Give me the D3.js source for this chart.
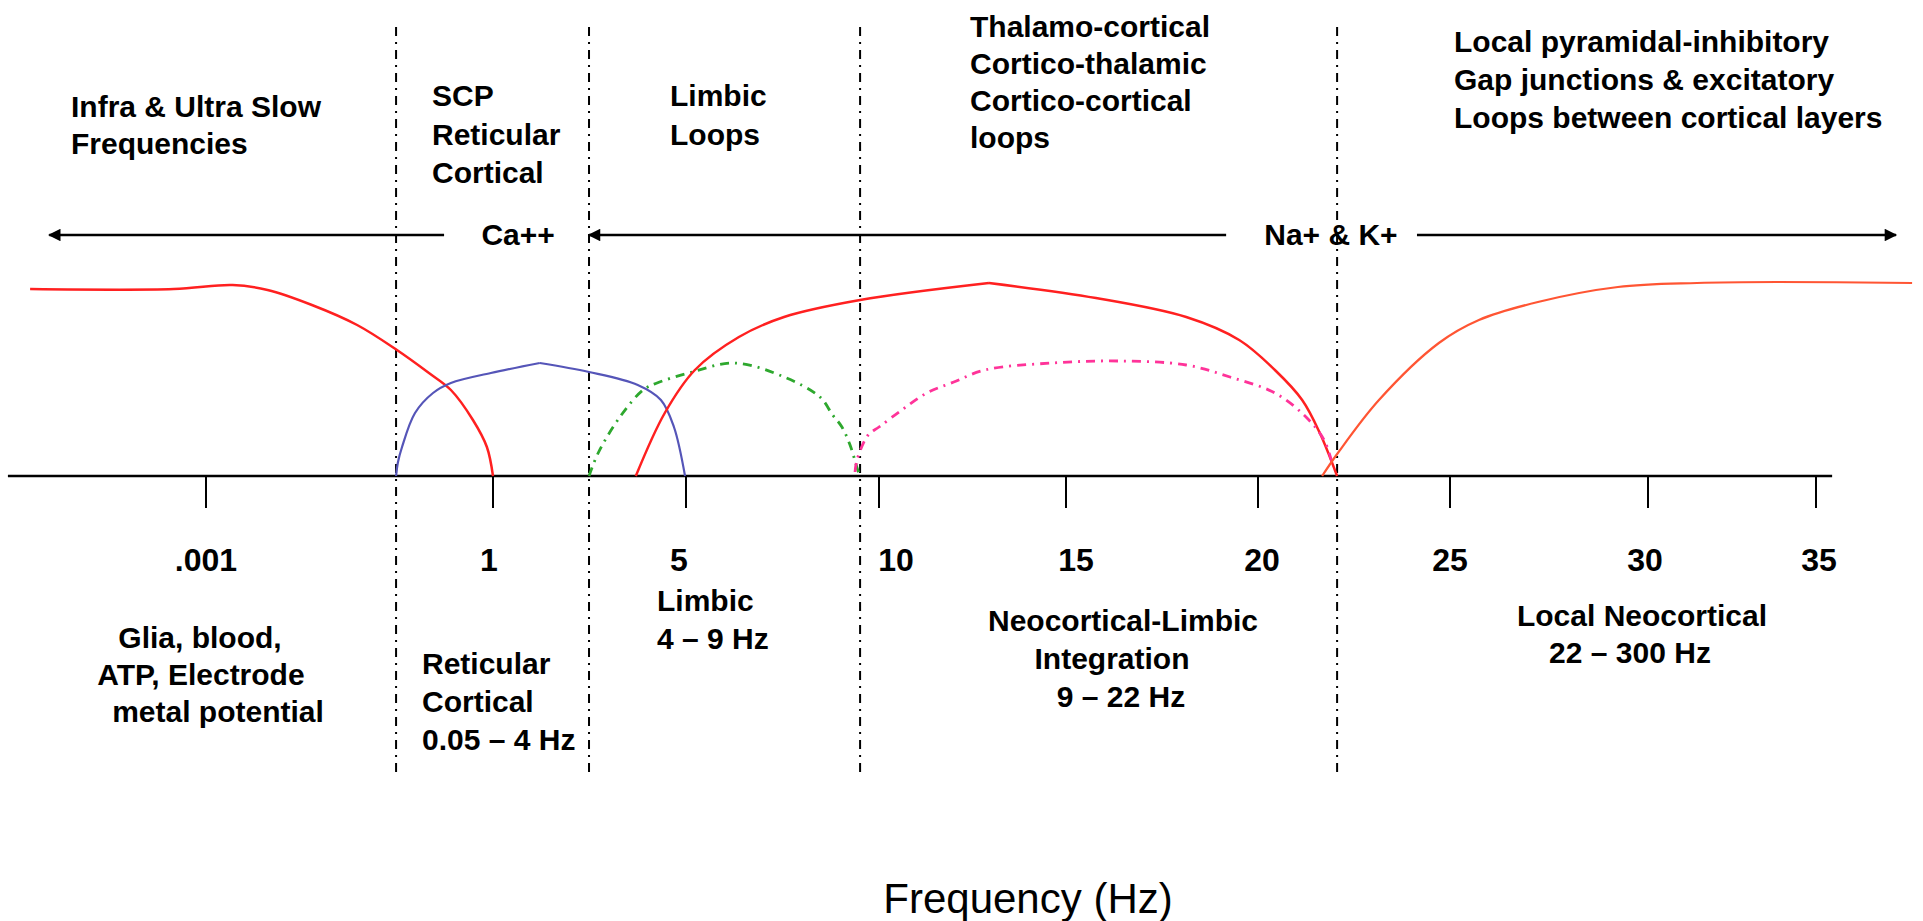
<!DOCTYPE html>
<html>
<head>
<meta charset="utf-8">
<script src="https://cdn.jsdelivr.net/npm/d3@7"></script>
<style>
  html, body { margin: 0; padding: 0; background: #ffffff; }
  svg { display: block; }
  .lbl { font-family: "Liberation Sans", Arial, Helvetica, sans-serif; font-weight: bold; font-size: 30px; fill: #000; }
</style>
</head>
<body>
<svg id="chart" width="1923" height="921"></svg>
<script>
// ---------------- DATA ----------------
const tickHz     = [0.001, 1, 5, 10, 15, 20, 25, 30, 35];
const tickLabels = [".001", "1", "5", "10", "15", "20", "25", "30", "35"];

// band boundaries (Hz)
const dividersHz = [0.097, 2.99, 9.51, 22.06];

// curves: [frequency Hz, relative amplitude 0-100]
const infraSlow = [[1.45e-5,93.5],[4.6e-4,93.5],[1.9e-3,95.5],[4.4e-3,93],[0.0128,85.5],[0.038,75.5],[0.099,63],[0.214,51.5],[0.363,43],[0.617,28],[0.863,14.5],[1,0]];
const reticular = [[0.097,0],[0.1016,7],[0.112,14.5],[0.153,31.5],[0.236,41.5],[0.363,46.5],[0.95,51.5],[1.97,56.5],[2.99,52],[4.0,45.5],[4.48,38],[4.75,24.5],[4.98,0]];
const limbic    = [[2.99,0],[3.18,11.5],[3.63,29.5],[4.11,43],[4.40,46.5],[5.16,52],[6.27,56.5],[7.54,49.5],[8.47,39.5],[8.8,30.5],[9.04,24.5],[9.25,15.5],[9.45,3],[9.51,0]];
const thalamo   = [[3.96,0],[4.56,31.5],[5.23,53],[6.37,69.5],[7.54,79.5],[9.51,88],[12.94,96.5],[15.78,89],[18.13,79.5],[19.51,68],[20.44,53],[21.15,38],[21.61,21.5],[22.06,0]];
const neoLimbic = [[9.38,2],[9.43,8],[9.72,20.5],[10.0,24.5],[10.61,33],[11.28,41.5],[12.0,47],[12.83,53],[14.63,56.5],[16.38,57.5],[18.13,55.5],[19.27,49.5],[20.44,41.5],[21.25,29.5],[21.72,18],[21.96,4.5]];
const localNeo  = [[21.67,0],[22.08,11.5],[23.15,38],[24.71,66.5],[25.73,78],[27.22,87],[29.24,94.5],[31.46,96.5],[33.84,97],[37.86,96.5]];

// ion bands: arrows (Hz)
const ionLabels  = ["Ca++", "Na+ & K+"];
const ionLabelHz = [1.52, 21.9];
const ionArrows  = [[0.308, 2.3e-5], [19.17, 2.99], [24.14, 37.38]]; // [from, tip]

const topNotes = [
  ["Infra & Ultra Slow", "Frequencies"],
  ["SCP", "Reticular", "Cortical"],
  ["Limbic", "Loops"],
  ["Thalamo-cortical", "Cortico-thalamic", "Cortico-cortical", "loops"],
  ["Local pyramidal-inhibitory", "Gap junctions & excitatory", "Loops between cortical layers"]
];
const bottomNotes = [
  ["Glia, blood,", "ATP, Electrode", "metal potential"],
  ["Reticular", "Cortical", "0.05 \u2013 4 Hz"],
  ["Limbic", "4 \u2013 9 Hz"],
  ["Neocortical-Limbic", "Integration", "9 \u2013 22 Hz"],
  ["Local Neocortical", "22 \u2013 300 Hz"]
];
const axisTitle = "Frequency (Hz)";

// ---------------- SCALES ----------------
const svg = d3.select("#chart");
svg.append("rect").attr("width", 1923).attr("height", 921).attr("fill", "#fff");

const xLog = d3.scaleLog().domain([0.001, 1]).range([206, 493]);
const xLin = d3.scaleLinear().domain([1, 5, 10, 15, 20, 25, 30, 35])
  .range([493, 686, 879, 1066, 1258, 1450, 1648, 1816]);
const x = f => (f < 1 ? xLog(f) : xLin(f));
const y = d3.scaleLinear().domain([0, 100]).range([476, 276]);

const axisMinHz = 8.5e-6, axisMaxHz = 35.48;
const font = '"Liberation Sans", Arial, Helvetica, sans-serif';
const tickLabelDx = [0, -4, -7, 17, 10, 4, 0, -3, 3];

// ---------------- DIVIDERS ----------------
svg.append("g").selectAll("line").data(dividersHz).join("line")
  .attr("x1", d => x(d)).attr("x2", d => x(d))
  .attr("y1", 27).attr("y2", 772)
  .attr("stroke", "#000").attr("stroke-width", 2)
  .attr("stroke-dasharray", "9,6,2,6");

// ---------------- AXIS ----------------
svg.append("line")
  .attr("x1", x(axisMinHz)).attr("x2", x(axisMaxHz))
  .attr("y1", y(0)).attr("y2", y(0))
  .attr("stroke", "#000").attr("stroke-width", 2.5);

const ticks = svg.append("g");
ticks.selectAll("line").data(tickHz).join("line")
  .attr("x1", d => x(d)).attr("x2", d => x(d))
  .attr("y1", y(0)).attr("y2", y(0) + 32)
  .attr("stroke", "#000").attr("stroke-width", 2);
ticks.selectAll("text").data(tickHz).join("text")
  .attr("class", "lbl").style("font-size", "32px")
  .attr("x", (d, i) => x(d) + tickLabelDx[i]).attr("y", 571)
  .attr("text-anchor", "middle")
  .text((d, i) => tickLabels[i]);

// ---------------- CURVES ----------------
const line = d3.line().x(d => x(d[0])).y(d => y(d[1])).curve(d3.curveCatmullRom.alpha(0.5));
function drawCurve(data, color, width, dash, kink) {
  const parts = kink == null ? [data] : [data.slice(0, kink + 1), data.slice(kink)];
  parts.forEach(p => {
    svg.append("path").datum(p)
      .attr("d", line)
      .attr("fill", "none")
      .attr("stroke", color)
      .attr("stroke-width", width)
      .attr("stroke-linejoin", "round")
      .attr("stroke-dasharray", dash || null);
  });
}
drawCurve(infraSlow, "#ff2020", 2.5);
drawCurve(reticular, "#5555b8", 2.2, null, 7);
drawCurve(limbic, "#2ea82e", 2.8, "9,6,2,6");
drawCurve(thalamo, "#ff2020", 2.5, null, 6);
drawCurve(neoLimbic, "#ff3399", 2.8, "9,6,2,6");
drawCurve(localNeo, "#ff5533", 2.2);

// ---------------- ION ARROWS ----------------
svg.append("defs").append("marker")
  .attr("id", "head").attr("viewBox", "0 0 10 10")
  .attr("refX", 9).attr("refY", 5)
  .attr("markerWidth", 6.5).attr("markerHeight", 5)
  .attr("markerUnits", "strokeWidth")
  .attr("orient", "auto")
  .append("path").attr("d", "M0,0 L10,5 L0,10 Z").attr("fill", "#000");

const arrowY = 235;
svg.append("g").selectAll("line").data(ionArrows).join("line")
  .attr("x1", d => x(d[0])).attr("x2", d => x(d[1]))
  .attr("y1", arrowY).attr("y2", arrowY)
  .attr("stroke", "#000").attr("stroke-width", 2.5)
  .attr("marker-end", "url(#head)");
svg.append("g").selectAll("text").data(ionLabels).join("text")
  .attr("class", "lbl")
  .attr("x", (d, i) => x(ionLabelHz[i])).attr("y", arrowY + 10)
  .attr("text-anchor", "middle")
  .text(d => d);

// ---------------- ANNOTATIONS ----------------
const topPos = [
  { x: 71, y: 117, lh: 37, anchor: "start" },
  { x: 432, y: 106, lh: 38.5, anchor: "start" },
  { x: 670, y: 106, lh: 39, anchor: "start" },
  { x: 970, y: 37, lh: 37, anchor: "start" },
  { x: 1454, y: 52, lh: 38, anchor: "start" }
];
const bottomPos = [
  { x: 206, y: 648, lh: 37, anchor: "middle", dx: [-6, -5, 12] },
  { x: 422, y: 674, lh: 38, anchor: "start" },
  { x: 657, y: 611, lh: 38, anchor: "start" },
  { x: 1121, y: 631, lh: 38, anchor: "middle", dx: [2, -9, 0] },
  { x: 1636, y: 626, lh: 37, anchor: "middle", dx: [6, -6] }
];
function drawNotes(notes, pos) {
  notes.forEach((lines, i) => {
    const p = pos[i];
    const t = svg.append("text").attr("class", "lbl").attr("text-anchor", p.anchor);
    lines.forEach((s, j) => {
      t.append("tspan")
        .attr("x", p.x + (p.dx ? p.dx[j] : 0))
        .attr("y", p.y + j * p.lh)
        .text(s);
    });
  });
}
drawNotes(topNotes, topPos);
drawNotes(bottomNotes, bottomPos);

svg.append("text")
  .attr("x", 1028).attr("y", 913)
  .attr("text-anchor", "middle")
  .style("font-family", font).style("font-size", "42px").style("fill", "#000")
  .text(axisTitle);
</script>
</body>
</html>
